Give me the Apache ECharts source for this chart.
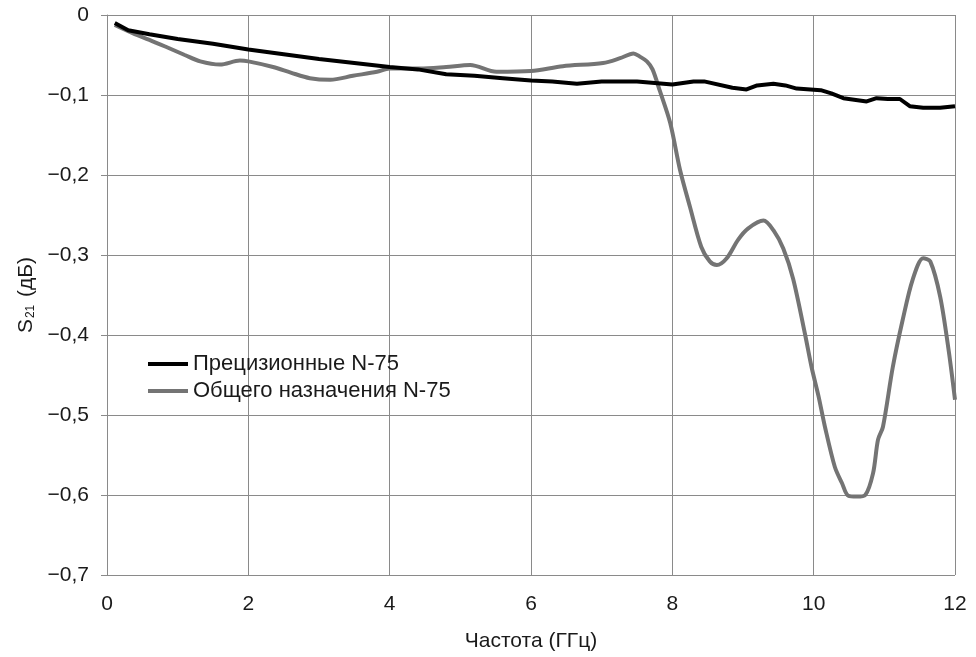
<!DOCTYPE html>
<html>
<head>
<meta charset="utf-8">
<script src="https://cdn.jsdelivr.net/npm/echarts@6/dist/echarts.min.js"></script>
<style>
  html, body { margin: 0; padding: 0; background: #fff; }
  #chart { width: 976px; height: 657px; }
</style>
</head>
<body>
<div id="chart"></div>
<script>
// S21 vs frequency, two N-75 connector types
const seriesNames = ['Прецизионные N-75', 'Общего назначения N-75'];

const precisionData = [
  [0.11, -0.010], [0.3, -0.019], [0.6, -0.024], [1.0, -0.030], [1.5, -0.036],
  [2.0, -0.043], [2.5, -0.049], [3.0, -0.055], [3.5, -0.060], [4.0, -0.065],
  [4.4, -0.068], [4.8, -0.074], [5.2, -0.076], [5.6, -0.079], [6.0, -0.082],
  [6.3, -0.083], [6.65, -0.086], [7.0, -0.083], [7.5, -0.083], [8.0, -0.087],
  [8.3, -0.083], [8.45, -0.083], [8.85, -0.091], [9.05, -0.093], [9.2, -0.088],
  [9.43, -0.086], [9.6, -0.088], [9.76, -0.092], [10.1, -0.094], [10.25, -0.098],
  [10.42, -0.104], [10.75, -0.108], [10.89, -0.104], [11.05, -0.105], [11.22, -0.105],
  [11.36, -0.114], [11.55, -0.116], [11.79, -0.116], [12.0, -0.114]
];

const generalData = [
  [0.11, -0.0125], [0.37, -0.023], [0.6, -0.031], [0.84, -0.040], [1.1, -0.050],
  [1.32, -0.058], [1.6, -0.062], [1.88, -0.057], [2.0, -0.058], [2.35, -0.065],
  [2.6, -0.072], [2.87, -0.079], [3.16, -0.081], [3.48, -0.076], [3.82, -0.071],
  [4.0, -0.067], [4.43, -0.067], [4.8, -0.065], [5.14, -0.0625], [5.51, -0.071],
  [6.0, -0.070], [6.45, -0.064], [7.02, -0.060], [7.26, -0.054], [7.45, -0.048],
  [7.54, -0.052], [7.64, -0.058], [7.72, -0.068], [7.82, -0.094], [7.97, -0.135],
  [8.11, -0.194], [8.25, -0.240], [8.41, -0.290], [8.53, -0.308], [8.63, -0.3125],
  [8.77, -0.304], [8.93, -0.281], [9.07, -0.267], [9.29, -0.257], [9.43, -0.269],
  [9.57, -0.292], [9.71, -0.330], [9.88, -0.400], [9.97, -0.440], [10.07, -0.477],
  [10.16, -0.515], [10.30, -0.565], [10.40, -0.585], [10.49, -0.601], [10.61, -0.602],
  [10.73, -0.600], [10.84, -0.573], [10.91, -0.531], [10.98, -0.515], [11.12, -0.440],
  [11.26, -0.381], [11.40, -0.331], [11.55, -0.304], [11.65, -0.308], [11.79, -0.352],
  [11.91, -0.419], [12.0, -0.481]
];

const xTicks = [0, 2, 4, 6, 8, 10, 12];
const yTicks = [0, -0.1, -0.2, -0.3, -0.4, -0.5, -0.6, -0.7];

const font = '"Liberation Sans", Arial, sans-serif';
const gridColor = '#8a8a8a';
const textColor = '#1a1a1a';

const myChart = echarts.init(document.getElementById('chart'));

const option = {
  animation: false,
  textStyle: { fontFamily: font },
  grid: { left: 107, right: 21, top: 15, bottom: 82 },
  legend: {
    orient: 'vertical',
    left: 143,
    top: 348,
    itemWidth: 40,
    itemHeight: 4,
    itemGap: 5,
    icon: 'rect',
    textStyle: { fontFamily: font, fontSize: 22, color: textColor },
    data: seriesNames
  },
  xAxis: {
    type: 'value',
    min: xTicks[0],
    max: xTicks[xTicks.length - 1],
    interval: 2,
    name: 'Частота (ГГц)',
    nameLocation: 'middle',
    nameGap: 56,
    nameTextStyle: { fontFamily: font, fontSize: 21, color: textColor },
    axisLine: { show: true, lineStyle: { color: gridColor, width: 1 } },
    axisTick: { show: false },
    axisLabel: { fontSize: 21, color: textColor, margin: 19 },
    splitLine: { show: true, lineStyle: { color: gridColor, width: 1 } }
  },
  yAxis: {
    type: 'value',
    min: yTicks[yTicks.length - 1],
    max: yTicks[0],
    interval: 0.1,
    name: '{s|S}{sub|21}{s| (дБ)}',
    nameLocation: 'middle',
    nameGap: 70,
    nameTextStyle: {
      rich: {
        s: { fontFamily: font, fontSize: 21, color: textColor },
        sub: { fontFamily: font, fontSize: 12, color: textColor, verticalAlign: 'bottom', padding: [8, 2, 0, 1] }
      }
    },
    axisLine: { show: true, lineStyle: { color: gridColor, width: 1 } },
    axisTick: { show: true, inside: false, length: 6, lineStyle: { color: gridColor } },
    axisLabel: {
      fontSize: 21,
      color: textColor,
      margin: 18,
      formatter: function (v) {
        if (Math.abs(v) < 1e-9) return '0';
        return v.toFixed(1).replace('-', '\u2212').replace('.', ',');
      }
    },
    splitLine: { show: true, lineStyle: { color: gridColor, width: 1 } }
  },
  series: [
    {
      name: seriesNames[0],
      type: 'line',
      data: precisionData,
      showSymbol: false,
      color: '#000000',
      lineStyle: { width: 4, color: '#000000' },
      z: 3
    },
    {
      name: seriesNames[1],
      type: 'line',
      data: generalData,
      showSymbol: false,
      smooth: 0.3,
      color: '#747474',
      lineStyle: { width: 4, color: '#747474' },
      z: 2
    }
  ]
};

myChart.setOption(option);
</script>
</body>
</html>
